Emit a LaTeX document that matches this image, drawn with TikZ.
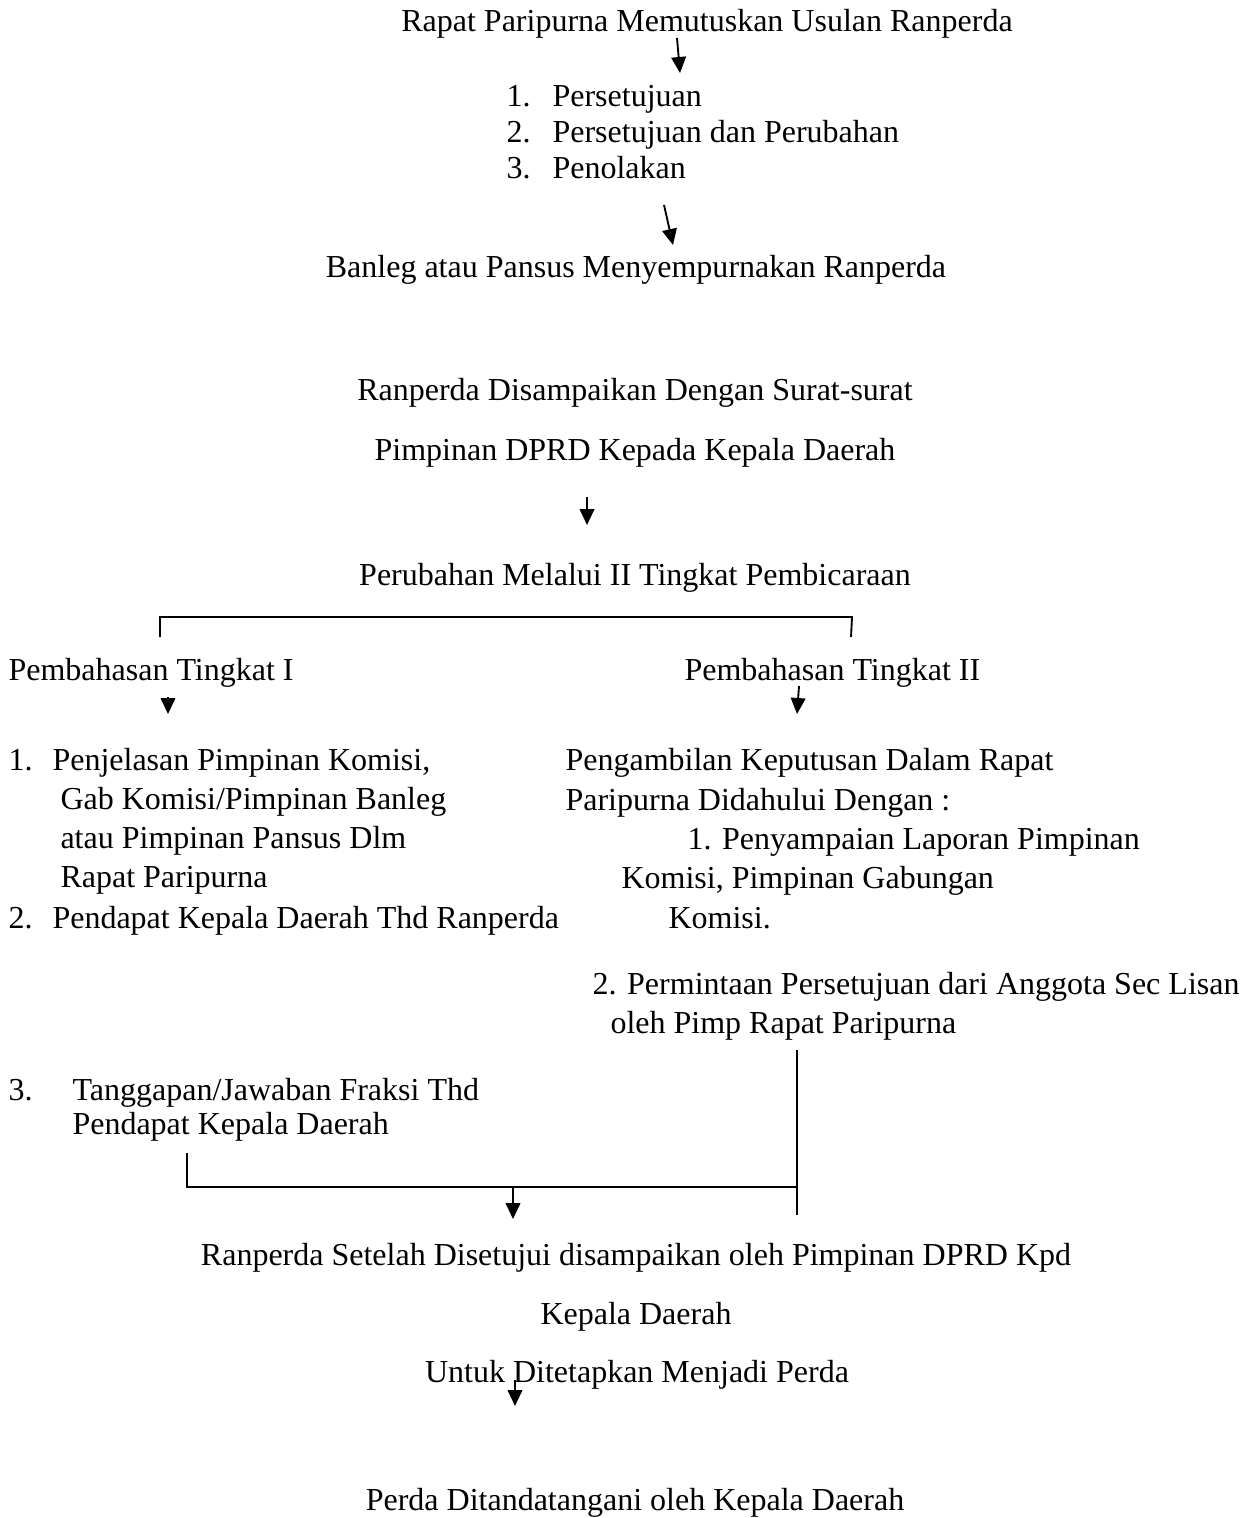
\documentclass[tikz,border=0pt]{standalone}
\usepackage{fontspec}
\setmainfont{Liberation Serif}
\usetikzlibrary{arrows.meta}

\begin{document}
\begin{tikzpicture}
  [x=0.375pt, y=-0.375pt, font=\fontsize{12}{14}\selectfont,
   txt/.style={inner sep=0pt, anchor=base west},
   ctr/.style={inner sep=0pt, anchor=base},
   flow/.style={-{Triangle[width=5.5pt,length=6pt]}, line width=0.7pt},
   rule/.style={line width=0.7pt}]
  \useasboundingbox (0,0) rectangle (1241,1518);

  % top part
  \node[ctr] (Usulan) at (707,32) {Rapat Paripurna Memutuskan Usulan Ranperda};
  \node[txt] (N1) at (506,107) {1.};
  \node[txt] (N2) at (506,143) {2.};
  \node[txt] (N3) at (506,179) {3.};
  \node[txt] (Setuju) at (552,107) {Persetujuan};
  \node[txt] (SetujuUbah) at (552,143) {Persetujuan dan Perubahan};
  \node[txt] (Tolak) at (552,179) {Penolakan};
  \node[ctr] (Banleg) at (636,278) {Banleg atau Pansus Menyempurnakan Ranperda};
  \node[ctr] (Surat) at (635,400) {Ranperda Disampaikan Dengan Surat-surat};
  \node[ctr] (Pimpinan) at (635,460) {Pimpinan DPRD Kepada Kepala Daerah};
  \node[ctr] (Perubahan) at (635,585) {Perubahan Melalui II Tingkat Pembicaraan};

  % two levels
  \node[txt] (TkI) at (8,680) {Pembahasan Tingkat I};
  \node[txt] (TkII) at (684,680) {Pembahasan Tingkat II};

  \node[txt] (L1) at (8,770) {1.};
  \node[txt] (L1a) at (52,770) {Penjelasan Pimpinan Komisi,};
  \node[txt] (L1b) at (60,809) {Gab Komisi/Pimpinan Banleg};
  \node[txt] (L1c) at (60,848) {atau Pimpinan Pansus Dlm};
  \node[txt] (L1d) at (60,887) {Rapat Paripurna};
  \node[txt] (L2) at (8,928) {2.};
  \node[txt] (L2a) at (52,928) {Pendapat Kepala Daerah Thd Ranperda};
  \node[txt] (L3) at (8,1100) {3.};
  \node[txt] (L3a) at (72,1100) {Tanggapan/Jawaban Fraksi Thd};
  \node[txt] (L3b) at (72,1134) {Pendapat Kepala Daerah};

  \node[txt] (R0a) at (565,770) {Pengambilan Keputusan Dalam Rapat};
  \node[txt] (R0b) at (565,810) {Paripurna Didahului Dengan :};
  \node[txt] (R1a) at (687,849) {1. Penyampaian Laporan Pimpinan};
  \node[txt] (R1b) at (621,888) {Komisi, Pimpinan Gabungan};
  \node[txt] (R1c) at (668,928) {Komisi.};
  \node[txt] (R2a) at (592,994) {2. Permintaan Persetujuan dari Anggota Sec Lisan};
  \node[txt] (R2b) at (610,1033) {oleh Pimp Rapat Paripurna};

  % bottom part
  \node[ctr] (Disetujui) at (636,1265) {Ranperda Setelah Disetujui disampaikan oleh Pimpinan DPRD Kpd};
  \node[ctr] (KepDaerah) at (636,1324) {Kepala Daerah};
  \node[ctr] (Perda) at (637,1382) {Untuk Ditetapkan Menjadi Perda};
  \node[ctr] (Ttd) at (635,1510) {Perda Ditandatangani oleh Kepala Daerah};

  % connectors
  \coordinate (a1) at (677,38);  \coordinate (b1) at (680,73);
  \coordinate (a2) at (664,205); \coordinate (b2) at (673,245);
  \coordinate (a3) at (587,497); \coordinate (b3) at (587,525);
  \coordinate (a4) at (168,697); \coordinate (b4) at (168,714);
  \coordinate (a5) at (799,686); \coordinate (b5) at (797,714);
  \coordinate (a6) at (513,1187); \coordinate (b6) at (513,1219);
  \coordinate (a7) at (515,1380); \coordinate (b7) at (515,1406);
  \draw[flow] (a1) -- (b1);
  \draw[flow] (a2) -- (b2);
  \draw[flow] (a3) -- (b3);
  \draw[flow] (a4) -- (b4);
  \draw[flow] (a5) -- (b5);
  \draw[flow] (a6) -- (b6);
  \draw[flow] (a7) -- (b7);

  \coordinate (bl) at (160,637); \coordinate (br) at (851,637);
  \draw[rule] (bl) -- (160,617) -- (852,617) -- (br);
  \coordinate (jl) at (187,1153); \coordinate (jt) at (797,1050);
  \coordinate (jb) at (797,1215);
  \draw[rule] (jl) -- (187,1187) -- (797,1187);
  \draw[rule] (jt) -- (jb);
\end{tikzpicture}
\end{document}
